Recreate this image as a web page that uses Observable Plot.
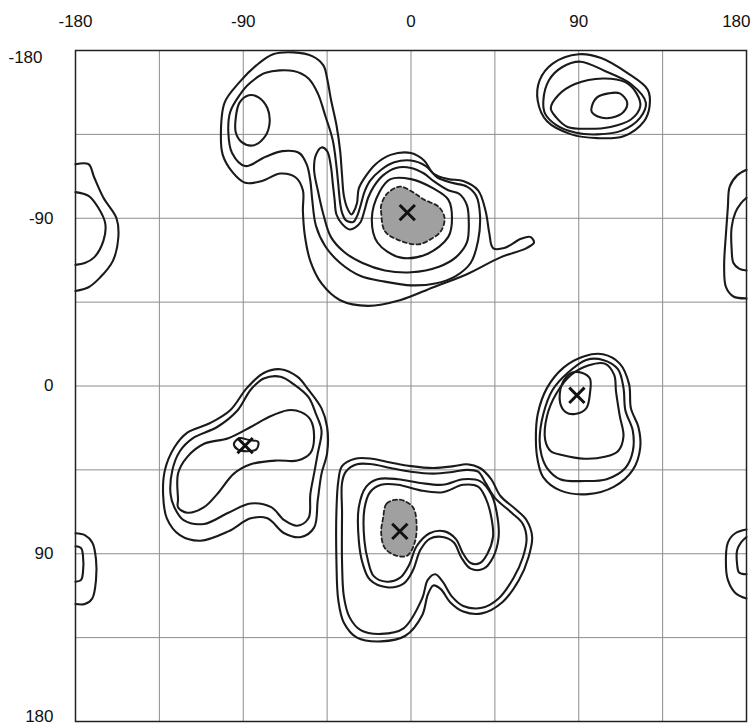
<!DOCTYPE html>
<html><head><meta charset="utf-8">
<script src="https://cdn.jsdelivr.net/npm/d3@7"></script>
<script src="https://cdn.jsdelivr.net/npm/@observablehq/plot@0.6"></script>
<style>body{margin:0;background:#fff;} svg{overflow:visible;}</style>
</head><body><div id="chart"></div>
<script>
// Axis ticks and grid (degrees)
const xTicks = [-180, -90, 0, 90, 180];
const yTicks = [-180, -90, 0, 90, 180];
const gridVals = [-135, -90, -45, 0, 45, 90, 135];

// Closed contour lines, [phi, psi] in degrees
const L1 = [[-102,-133],[-100,-152],[-92,-163],[-83,-172],[-74,-178],[-63,-179],[-53,-177],[-47,-172],[-45,-165],[-43,-154],[-40,-140],[-38,-126],[-37,-113],[-36,-102],[-34,-95],[-32,-92],[-31,-93],[-29,-98],[-28,-106],[-24,-113],[-19,-119],[-11,-124],[0,-125],[7,-121],[12,-114],[20,-111],[28,-110],[36,-105],[40,-94],[42,-82],[44,-74],[50,-74],[59,-79],[64,-80],[66,-77],[62,-74],[48,-69],[30,-60],[12,-53],[-6,-46],[-23,-43],[-38,-46],[-48,-55],[-54,-67],[-57,-81],[-58,-94],[-58,-105],[-62,-112],[-70,-114],[-80,-110],[-89,-109],[-96,-115],[-101,-124]];
const L2 = [[-98,-136],[-97,-147],[-92,-156],[-87,-162],[-78,-168],[-63,-169],[-55,-165],[-50,-157],[-46,-145],[-42,-132],[-40,-118],[-39,-108],[-38,-98],[-37,-93],[-35,-89],[-31,-88],[-29,-91],[-27,-97],[-25,-104],[-22,-110],[-16,-116],[-9,-120],[0,-121],[8,-118],[14,-112],[22,-109],[30,-107],[35,-102],[37,-92],[36,-78],[32,-66],[24,-59],[13,-55],[0,-54],[-14,-56],[-27,-59],[-38,-66],[-46,-75],[-51,-86],[-53,-100],[-54,-110],[-56,-119],[-60,-125],[-69,-126],[-78,-123],[-89,-118],[-96,-125]];
const L3 = [[-50,-105],[-52,-116],[-51,-124],[-48,-128],[-45,-126],[-43,-118],[-42,-109],[-41,-100],[-40,-92],[-37,-87],[-33,-84],[-30,-85],[-27,-88],[-25,-94],[-23,-101],[-20,-107],[-15,-113],[-8,-117],[0,-117],[7,-114],[12,-110],[20,-105],[26,-103],[30,-97],[31,-88],[30,-77],[24,-69],[15,-64],[0,-61],[-14,-62],[-26,-66],[-36,-72],[-43,-80],[-47,-92]];
const L4 = [[-21,-90],[-18,-77],[-6,-69],[9,-71],[20,-80],[22,-90],[20,-100],[12,-106],[0,-111],[-11,-111],[-17,-104]];
const SL = [[-94,-144],[-92,-152],[-87,-156],[-82,-155],[-77,-149],[-76,-140],[-79,-133],[-85,-129],[-91,-131],[-94,-136]];

const TR1 = [[69,-164],[76,-173],[90,-178],[102,-176],[116,-168],[127,-159],[128,-150],[125,-142],[114,-134],[100,-133],[86,-135],[73,-142],[68,-153]];
const TR2 = [[71,-153],[74,-164],[81,-171],[91,-174],[104,-169],[118,-162],[126,-152],[123,-144],[113,-137],[100,-135],[88,-136],[78,-140],[72,-146]];
const TR3 = [[75,-149],[79,-156],[88,-162],[103,-165],[115,-163],[121,-157],[123,-150],[118,-143],[107,-139],[95,-138],[84,-139],[78,-144]];
const TR4 = [[97,-150],[100,-155],[106,-157],[112,-157],[116,-152],[114,-147],[108,-144],[102,-144],[97,-147]];

const BL1 = [[-133,58],[-132,45],[-127,33],[-120,25],[-108,20],[-97,13],[-88,1],[-79,-7],[-70,-9],[-61,-5],[-55,2],[-48,12],[-45,22],[-45,36],[-48,47],[-50,61],[-52,76],[-59,81],[-68,79],[-77,71],[-86,71],[-98,78],[-113,83],[-124,80],[-131,71]];
const BL2 = [[-129,58],[-128,45],[-124,35],[-117,28],[-104,22],[-93,13],[-86,2],[-79,-4],[-70,-5],[-63,-1],[-55,6],[-51,15],[-48,24],[-50,36],[-52,47],[-54,58],[-55,71],[-61,75],[-68,72],[-75,65],[-86,63],[-98,68],[-111,74],[-122,72],[-127,65]];
const BL3 = [[-125,61],[-125,47],[-120,38],[-111,31],[-98,28],[-86,22],[-77,17],[-66,13],[-59,14],[-54,18],[-52,28],[-54,36],[-61,40],[-72,40],[-86,42],[-95,47],[-104,58],[-111,65],[-120,68],[-125,65]];
const BL4 = [[-95,31],[-92,28],[-87,29],[-82,30],[-83,34],[-88,35],[-93,34]];

const BC1 = [[-39,51],[-37,43],[-30,39],[-21,39],[-11,41],[0,43],[12,44],[23,43],[30,42],[37,44],[43,50],[48,59],[56,66],[62,72],[65,81],[63,92],[58,104],[49,116],[38,122],[28,121],[21,116],[16,109],[12,107],[9,112],[6,123],[-3,134],[-16,137],[-29,135],[-36,127],[-39,115],[-40,94],[-40,67]];
const BC2 = [[-37,52],[-35,46],[-29,42],[-21,42],[-11,44],[0,46],[12,47],[23,46],[30,45],[36,46],[40,52],[45,60],[54,68],[60,74],[62,82],[60,92],[55,103],[47,114],[38,119],[28,118],[22,113],[17,105],[13,101],[9,104],[6,114],[-4,130],[-16,133],[-27,131],[-33,124],[-36,113],[-37,94],[-37,68]];
const BC3 = [[-28,83],[-28,65],[-24,54],[-18,50],[-7,50],[5,52],[17,53],[28,50],[37,51],[43,58],[46,68],[47,81],[44,92],[39,98],[32,98],[27,92],[23,84],[17,81],[10,82],[5,88],[1,99],[-4,106],[-13,108],[-22,104],[-26,95]];
const BC4 = [[-25,83],[-25,66],[-22,57],[-16,53],[-7,53],[5,56],[17,57],[28,53],[36,54],[40,60],[43,70],[44,81],[41,90],[37,95],[32,95],[28,90],[24,82],[18,78],[10,79],[3,86],[-1,96],[-6,103],[-13,105],[-20,102],[-23,94]];

const RM1 = [[67,29],[68,15],[73,1],[82,-10],[93,-16],[103,-17],[112,-12],[117,-1],[118,12],[122,22],[123,33],[119,45],[109,54],[95,58],[80,56],[71,49],[68,40]];
const RM2 = [[69,29],[71,15],[76,2],[84,-7],[94,-14],[103,-14],[111,-9],[114,1],[115,13],[119,24],[119,35],[115,44],[105,50],[93,51],[80,50],[73,44],[70,37]];
const RM3 = [[72,29],[73,16],[78,4],[86,-6],[95,-11],[104,-12],[109,-6],[110,3],[112,16],[114,27],[111,35],[104,38],[93,39],[81,37],[75,35]];
const RM4 = [[80,9],[81,-1],[86,-7],[92,-7],[96,-4],[96,4],[94,12],[88,15],[83,14]];

// Open contours wrapping at the +-180 edges
const LE1 = [[-180,-119],[-173,-119],[-170,-112],[-165,-101],[-158,-90],[-157,-80],[-160,-67],[-167,-58],[-173,-53],[-180,-51]];
const LE2 = [[-180,-104],[-173,-102],[-168,-96],[-164,-87],[-165,-78],[-170,-69],[-175,-66],[-180,-65]];
const RE1 = [[180,-116],[175,-113],[171,-107],[170,-96],[169,-82],[168,-64],[169,-53],[173,-48],[180,-47]];
const RE2 = [[180,-101],[177,-98],[174,-93],[172,-85],[172,-74],[173,-66],[176,-63],[180,-62]];
const LB1 = [[-180,79],[-175,80],[-171,84],[-169,93],[-169,104],[-171,114],[-175,117],[-180,117]];
const LB2 = [[-180,86],[-177,87],[-176,91],[-176,100],[-177,104],[-180,105]];
const RB1 = [[180,77],[174,79],[170,84],[169,97],[170,104],[174,111],[180,114]];
const RB2 = [[180,81],[177,84],[175,88],[175,96],[176,100],[180,101]];

// Shaded (highest density) regions
const SH1 = [[-16,-93],[-14,-83],[-6,-78],[4,-76],[11,-79],[16,-83],[18,-90],[15,-96],[7,-100],[1,-104],[-6,-107],[-13,-103],[-16,-97]];
const SH2 = [[-15,71],[-13,63],[-6,61],[1,65],[3,74],[2,84],[-2,91],[-8,91],[-14,87],[-16,79]];

// Minima marked with crosses
const peaks = [[-2,-93],[89,5],[-6,78],[-89,32]];

const toRows = (obj) => Object.entries(obj).flatMap(([id, pts]) => pts.map(([phi, psi]) => ({id, phi, psi})));
const closedRows = toRows({L1, L2, L3, L4, SL, TR1, TR2, TR3, TR4, BL1, BL2, BL3, BL4, BC1, BC2, BC3, BC4, RM1, RM2, RM3, RM4});
const openRows = toRows({LE1, LE2, RE1, RE2, LB1, LB2, RB1, RB2});
const shadeRows = toRows({SH1, SH2});
const peakRows = peaks.map(([phi, psi]) => ({phi, psi}));

const font = "Liberation Sans, Arial, Helvetica, sans-serif";
const lbl = {fontFamily: font, fontSize: 17, fill: "#111", text: d => String(d)};
const chart = Plot.plot({
  width: 751, height: 728,
  marginLeft: 75, marginRight: 5, marginTop: 50, marginBottom: 7,
  x: {domain: [-180, 180], axis: null},
  y: {domain: [-180, 180], reverse: true, axis: null},
  style: {background: "#fff"},
  marks: [
    Plot.ruleX(gridVals, {stroke: "#8c8c8c", strokeWidth: 1}),
    Plot.ruleY(gridVals, {stroke: "#8c8c8c", strokeWidth: 1}),
    Plot.line(shadeRows, {x: "phi", y: "psi", z: "id", curve: "catmull-rom-closed", fill: "#a0a0a0", stroke: "#222", strokeWidth: 1.8, strokeDasharray: "4,3"}),
    Plot.line(closedRows, {x: "phi", y: "psi", z: "id", curve: "catmull-rom-closed", stroke: "#1a1a1a", strokeWidth: 2.1}),
    Plot.line(openRows, {x: "phi", y: "psi", z: "id", curve: "catmull-rom", stroke: "#1a1a1a", strokeWidth: 2.1}),
    Plot.dot(peakRows, {x: "phi", y: "psi", symbol: "times", r: 7, stroke: "#111", strokeWidth: 3}),
    Plot.frame({stroke: "#222", strokeWidth: 1.5}),
    Plot.text(xTicks.slice(0, 4), {...lbl, x: d => d, y: -180, dy: -29}),
    Plot.text(xTicks.slice(4), {...lbl, x: d => d, y: -180, dy: -29, dx: 4, textAnchor: "end"}),
    Plot.text(yTicks.slice(1, 4), {...lbl, x: -180, y: d => d, dx: -22, textAnchor: "end"}),
    Plot.text(yTicks.slice(4), {...lbl, x: -180, y: d => d, dx: -22, dy: -5, textAnchor: "end"}),
    Plot.text(yTicks.slice(0, 1), {...lbl, x: -180, y: d => d, dx: -33, dy: 7, textAnchor: "end"})
  ]
});
document.getElementById("chart").append(chart);
</script>
</body></html>
